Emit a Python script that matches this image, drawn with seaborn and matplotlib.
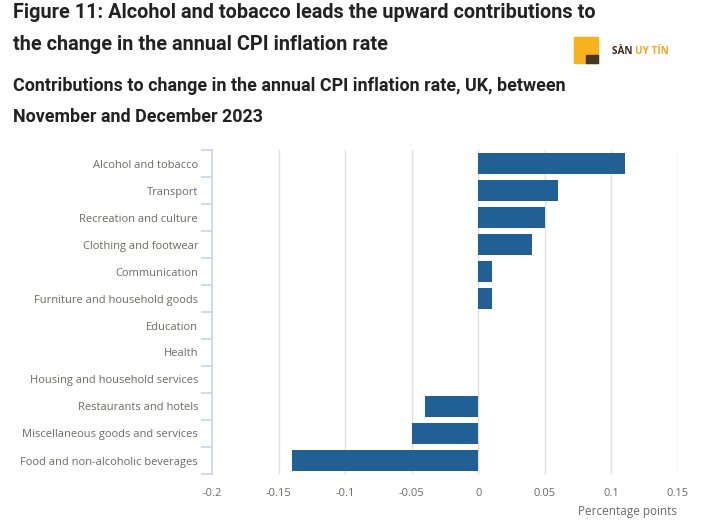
import matplotlib
matplotlib.use("Agg")
import matplotlib.pyplot as plt
import seaborn as sns
import pandas as pd

categories = [
    "Alcohol and tobacco",
    "Transport",
    "Recreation and culture",
    "Clothing and footwear",
    "Communication",
    "Furniture and household goods",
    "Education",
    "Health",
    "Housing and household services",
    "Restaurants and hotels",
    "Miscellaneous goods and services",
    "Food and non-alcoholic beverages",
]
values = [0.11, 0.06, 0.05, 0.04, 0.01, 0.01, 0.0, 0.0, 0.0, -0.04, -0.05, -0.14]
xticks = [-0.2, -0.15, -0.1, -0.05, 0, 0.05, 0.1, 0.15]
xticklabels = ["-0.2", "-0.15", "-0.1", "-0.05", "0", "0.05", "0.1", "0.15"]

df = pd.DataFrame({"category": categories, "value": values})

sns.set_theme(style="white")
plt.rcParams["font.family"] = ["Open Sans", "DejaVu Sans"]

fig = plt.figure(figsize=(7.03, 5.26), dpi=100)
ax = fig.add_axes([212 / 703, 1 - 474 / 526, 466 / 703, 324 / 526])

sns.barplot(data=df, x="value", y="category", orient="h", color="#206095",
            saturation=1, width=0.78, linewidth=0, edgecolor="none", ax=ax, zorder=3)

ax.set_xlim(-0.2, 0.15)
ax.set_ylim(len(categories) - 0.5, -0.5)
ax.set_xticks(xticks)
ax.set_xticklabels(xticklabels)
ax.set_xlabel("")
ax.set_ylabel("")

for v in xticks[1:]:
    ax.axvline(v, color="#e0e0e0", lw=1, zorder=1)

for s in ["top", "right", "bottom"]:
    ax.spines[s].set_visible(False)
ax.spines["left"].set_color("#c6d4ec")
ax.spines["left"].set_linewidth(1.2)

label_color = "#6e6a66"
ax.tick_params(axis="x", length=0, labelsize=8, labelcolor=label_color, pad=10)
ax.tick_params(axis="y", which="major", left=False, length=0, labelsize=8,
               labelcolor=label_color, pad=10)
ax.set_yticks([i - 0.5 for i in range(len(categories) + 1)], minor=True)
ax.tick_params(axis="y", which="minor", left=True, length=8, color="#c6d4ec", width=1.2)

fig.text(677 / 703, 1 - 511 / 526, "Percentage points", ha="right", va="center",
         fontsize=8.5, color=label_color)

title_kw = dict(fontweight="bold", color="#222222", family=["Roboto", "DejaVu Sans"])
fig.text(13 / 703, 1 - 13 / 526, "Figure 11: Alcohol and tobacco leads the upward contributions to",
         ha="left", va="center", fontsize=14.3, **title_kw)
fig.text(13 / 703, 1 - 45 / 526, "the change in the annual CPI inflation rate",
         ha="left", va="center", fontsize=14.3, **title_kw)
fig.text(13 / 703, 1 - 86 / 526, "Contributions to change in the annual CPI inflation rate, UK, between",
         ha="left", va="center", fontsize=12.9, **title_kw)
fig.text(13 / 703, 1 - 117 / 526, "November and December 2023",
         ha="left", va="center", fontsize=12.9, **title_kw)

# watermark
fig.text(612 / 703, 1 - 52 / 526, "SÀN ", ha="left", va="center", fontsize=7.2,
         fontweight="bold", color="#3a2a20")
fig.text(635 / 703, 1 - 52 / 526, "UY TÍN", ha="left", va="center", fontsize=7.2,
         fontweight="bold", color="#f0a820")
fig.patches.append(plt.Rectangle((574 / 703, 1 - 63 / 526), 24 / 703, 26 / 526,
                                 transform=fig.transFigure, color="#f7b21b", figure=fig))
fig.patches.append(plt.Rectangle((586 / 703, 1 - 63 / 526), 12 / 703, 8 / 526,
                                 transform=fig.transFigure, color="#4a3526", figure=fig))

fig.savefig("out.png", dpi=100)
